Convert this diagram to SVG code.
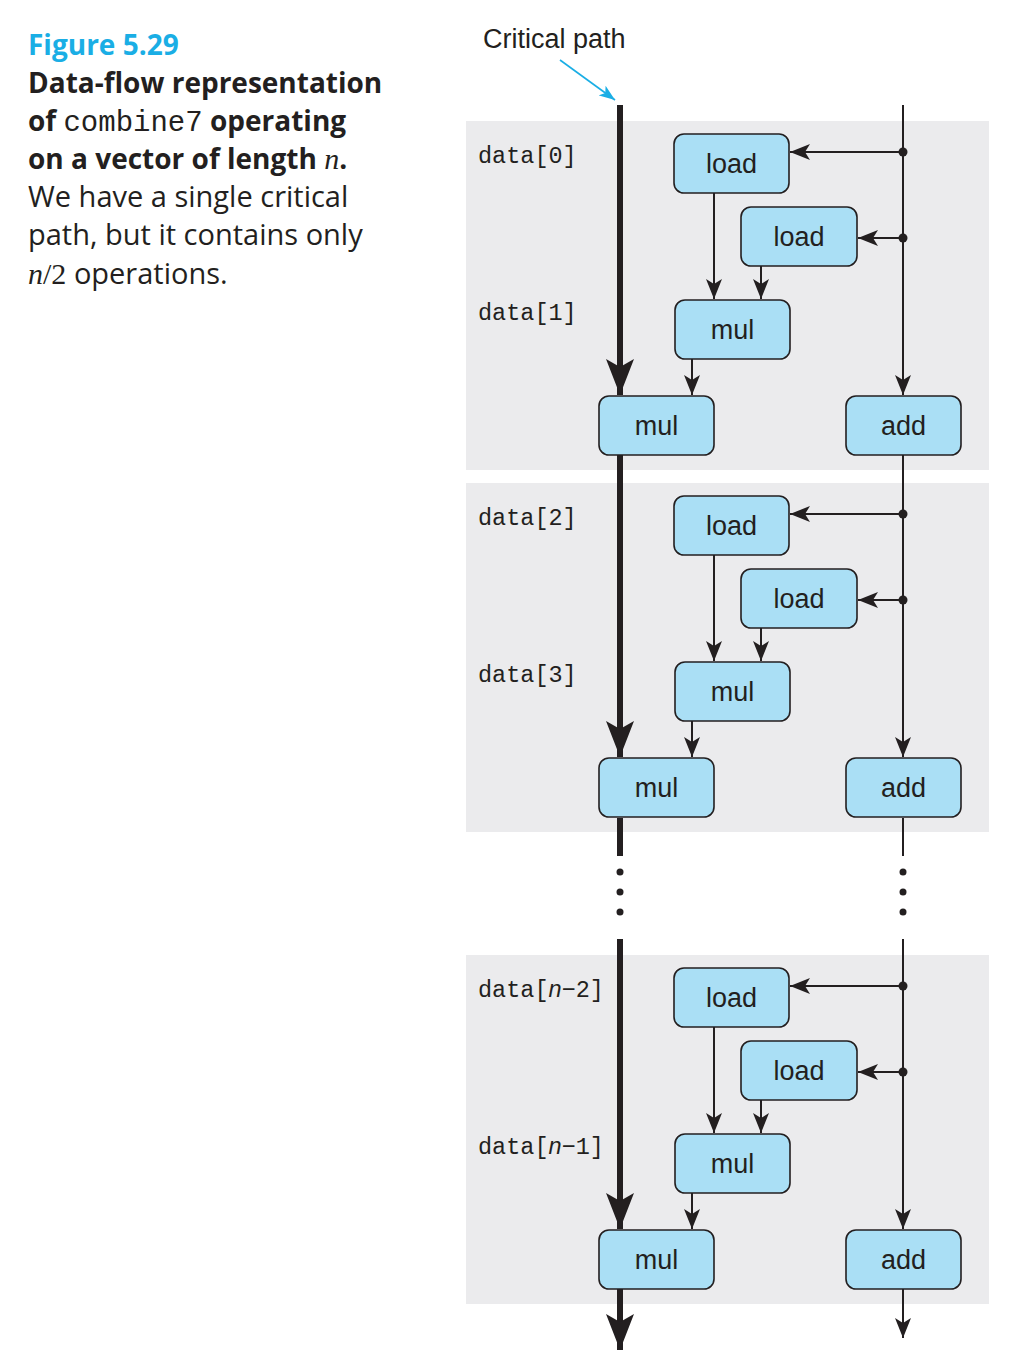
<svg xmlns="http://www.w3.org/2000/svg" width="1030" height="1354" viewBox="0 0 1030 1354">
<style>
.panel{fill:#ebebed}
.node rect{fill:#aadff5;stroke:#231f20;stroke-width:1.6}
.node text{font-family:"Liberation Sans",Arial,sans-serif;font-size:27px;fill:#231f20;text-anchor:middle}
.lbl{font-family:"Liberation Mono","DejaVu Sans Mono",monospace;font-size:23.5px;fill:#231f20}
.cap{font-family:"Open Sans","Liberation Sans",sans-serif;font-size:29px;fill:#231f20}
.capb{font-family:"Open Sans","Liberation Sans",sans-serif;font-size:28px;font-weight:bold;fill:#231f20}
.thin{stroke:#231f20;stroke-width:2;fill:none}
.thick{stroke:#231f20;stroke-width:6;fill:none}
.dot{fill:#231f20}
</style>
<defs>
<marker id="ah" markerUnits="userSpaceOnUse" markerWidth="20" markerHeight="16" viewBox="0 0 20 16" refX="20" refY="8" orient="auto">
<path d="M0,0 L20,8 L0,16 L5,8 Z" fill="#231f20"/>
</marker>
<marker id="big" markerUnits="userSpaceOnUse" markerWidth="28" markerHeight="36" viewBox="0 0 28 36" refX="14" refY="36" orient="0">
<path d="M0,0 L14,8 L28,0 L14,36 Z" fill="#231f20"/>
</marker>
<marker id="blue" markerUnits="userSpaceOnUse" markerWidth="16" markerHeight="12" viewBox="0 0 16 12" refX="16" refY="6" orient="auto">
<path d="M0,0 L16,6 L0,12 L4,6 Z" fill="#1aaee5"/>
</marker>
</defs>

<g id="caption">
<text x="28" y="55" style="font-family:'Open Sans','Liberation Sans',sans-serif;font-size:28px;font-weight:bold;fill:#1aaee5">Figure 5.29</text>
<text class="capb" x="28" y="93">Data-flow representation</text>
<text class="capb" x="28" y="131">of <tspan font-family="'Liberation Mono',monospace" font-weight="normal" font-size="29">combine7</tspan> operating</text>
<text class="capb" x="28" y="169">on a vector of length <tspan font-family="'Liberation Serif',serif" font-style="italic" font-weight="normal" font-size="30">n</tspan>.</text>
<text class="cap" x="28" y="207">We have a single critical</text>
<text class="cap" x="28" y="245">path, but it contains only</text>
<text class="cap" x="28" y="284"><tspan font-family="'Liberation Serif',serif" font-style="italic" font-size="30">n</tspan><tspan font-family="'Liberation Serif',serif" font-size="30">/2</tspan> operations.</text>
</g>

<g id="critical-label">
<text x="483" y="48" style="font-family:'Liberation Sans',Arial,sans-serif;font-size:27px;fill:#231f20">Critical path</text>
<line x1="560" y1="60" x2="615" y2="100" stroke="#1aaee5" stroke-width="1.6" marker-end="url(#blue)"/>
</g>

<g id="panels">
<rect class="panel" x="466" y="121" width="523" height="349"/>
<rect class="panel" x="466" y="483" width="523" height="349"/>
<rect class="panel" x="466" y="955" width="523" height="349"/>
</g>

<g id="labels">
<text class="lbl" x="478" y="163">data[0]</text>
<text class="lbl" x="478" y="320">data[1]</text>
<text class="lbl" x="478" y="525">data[2]</text>
<text class="lbl" x="478" y="682">data[3]</text>
<text class="lbl" x="478" y="997">data[<tspan font-family="'Liberation Sans',sans-serif" font-style="italic">n</tspan>−2]</text>
<text class="lbl" x="478" y="1154">data[<tspan font-family="'Liberation Sans',sans-serif" font-style="italic">n</tspan>−1]</text>
</g>

<g id="connectors">
<!-- critical path -->
<line class="thick" x1="620" y1="105" x2="620" y2="395" marker-end="url(#big)"/>
<line class="thick" x1="620" y1="455" x2="620" y2="757" marker-end="url(#big)"/>
<line class="thick" x1="620" y1="818" x2="620" y2="856"/>
<line class="thick" x1="620" y1="939" x2="620" y2="1229" marker-end="url(#big)"/>
<line class="thick" x1="620" y1="1289" x2="620" y2="1350" marker-end="url(#big)"/>
<circle class="dot" cx="620" cy="872" r="3.5"/>
<circle class="dot" cx="620" cy="892" r="3.5"/>
<circle class="dot" cx="620" cy="912" r="3.5"/>
<!-- index path -->
<line class="thin" x1="903" y1="105" x2="903" y2="395" marker-end="url(#ah)"/>
<line class="thin" x1="903" y1="455" x2="903" y2="757" marker-end="url(#ah)"/>
<line class="thin" x1="903" y1="818" x2="903" y2="856"/>
<line class="thin" x1="903" y1="939" x2="903" y2="1229" marker-end="url(#ah)"/>
<line class="thin" x1="903" y1="1289" x2="903" y2="1338" marker-end="url(#ah)"/>
<circle class="dot" cx="903" cy="872" r="3.5"/>
<circle class="dot" cx="903" cy="892" r="3.5"/>
<circle class="dot" cx="903" cy="912" r="3.5"/>
<!-- panel 1 -->
<circle class="dot" cx="903" cy="152" r="4.5"/>
<circle class="dot" cx="903" cy="238" r="4.5"/>
<line class="thin" x1="903" y1="152" x2="790" y2="152" marker-end="url(#ah)"/>
<line class="thin" x1="903" y1="238" x2="858" y2="238" marker-end="url(#ah)"/>
<line class="thin" x1="714" y1="193" x2="714" y2="299" marker-end="url(#ah)"/>
<line class="thin" x1="761" y1="266" x2="761" y2="299" marker-end="url(#ah)"/>
<line class="thin" x1="692" y1="359" x2="692" y2="395" marker-end="url(#ah)"/>
<!-- panel 2 -->
<circle class="dot" cx="903" cy="514" r="4.5"/>
<circle class="dot" cx="903" cy="600" r="4.5"/>
<line class="thin" x1="903" y1="514" x2="790" y2="514" marker-end="url(#ah)"/>
<line class="thin" x1="903" y1="600" x2="858" y2="600" marker-end="url(#ah)"/>
<line class="thin" x1="714" y1="555" x2="714" y2="661" marker-end="url(#ah)"/>
<line class="thin" x1="761" y1="628" x2="761" y2="661" marker-end="url(#ah)"/>
<line class="thin" x1="692" y1="721" x2="692" y2="757" marker-end="url(#ah)"/>
<!-- panel 3 -->
<circle class="dot" cx="903" cy="986" r="4.5"/>
<circle class="dot" cx="903" cy="1072" r="4.5"/>
<line class="thin" x1="903" y1="986" x2="790" y2="986" marker-end="url(#ah)"/>
<line class="thin" x1="903" y1="1072" x2="858" y2="1072" marker-end="url(#ah)"/>
<line class="thin" x1="714" y1="1027" x2="714" y2="1133" marker-end="url(#ah)"/>
<line class="thin" x1="761" y1="1100" x2="761" y2="1133" marker-end="url(#ah)"/>
<line class="thin" x1="692" y1="1193" x2="692" y2="1229" marker-end="url(#ah)"/>
</g>

<g id="n-load-0a" class="node"><rect x="674" y="134" width="115" height="59" rx="10"/><text x="731.5" y="173">load</text></g>
<g id="n-load-0b" class="node"><rect x="741" y="207" width="116" height="59" rx="10"/><text x="799" y="246">load</text></g>
<g id="n-mul-0a" class="node"><rect x="675" y="300" width="115" height="59" rx="10"/><text x="732.5" y="339">mul</text></g>
<g id="n-mul-0" class="node"><rect x="599" y="396" width="115" height="59" rx="10"/><text x="656.5" y="435">mul</text></g>
<g id="n-add-0" class="node"><rect x="846" y="396" width="115" height="59" rx="10"/><text x="903.5" y="435">add</text></g>

<g id="n-load-1a" class="node"><rect x="674" y="496" width="115" height="59" rx="10"/><text x="731.5" y="535">load</text></g>
<g id="n-load-1b" class="node"><rect x="741" y="569" width="116" height="59" rx="10"/><text x="799" y="608">load</text></g>
<g id="n-mul-1a" class="node"><rect x="675" y="662" width="115" height="59" rx="10"/><text x="732.5" y="701">mul</text></g>
<g id="n-mul-1" class="node"><rect x="599" y="758" width="115" height="59" rx="10"/><text x="656.5" y="797">mul</text></g>
<g id="n-add-1" class="node"><rect x="846" y="758" width="115" height="59" rx="10"/><text x="903.5" y="797">add</text></g>

<g id="n-load-2a" class="node"><rect x="674" y="968" width="115" height="59" rx="10"/><text x="731.5" y="1007">load</text></g>
<g id="n-load-2b" class="node"><rect x="741" y="1041" width="116" height="59" rx="10"/><text x="799" y="1080">load</text></g>
<g id="n-mul-2a" class="node"><rect x="675" y="1134" width="115" height="59" rx="10"/><text x="732.5" y="1173">mul</text></g>
<g id="n-mul-2" class="node"><rect x="599" y="1230" width="115" height="59" rx="10"/><text x="656.5" y="1269">mul</text></g>
<g id="n-add-2" class="node"><rect x="846" y="1230" width="115" height="59" rx="10"/><text x="903.5" y="1269">add</text></g>
</svg>
